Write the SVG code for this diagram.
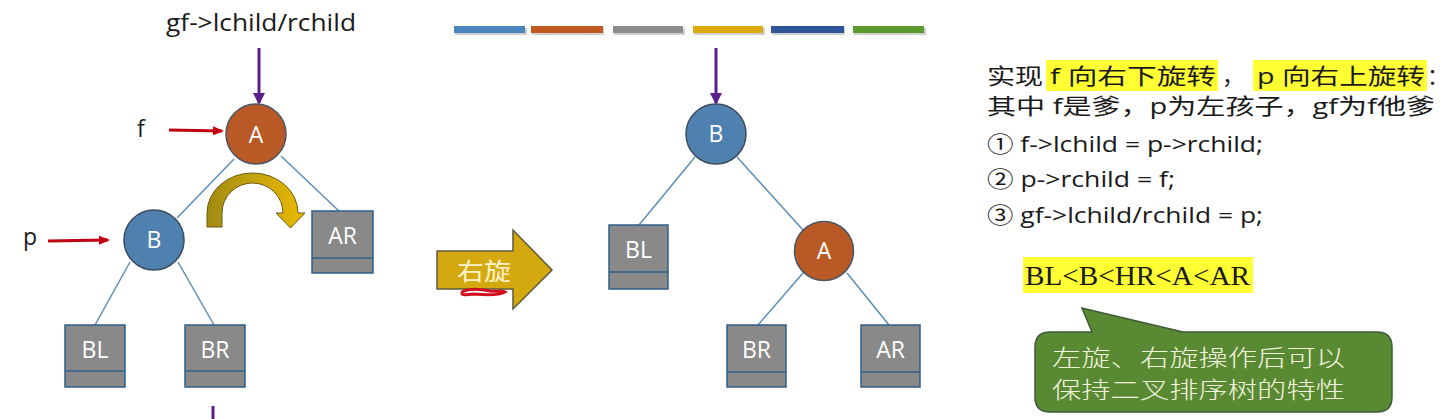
<svg xmlns="http://www.w3.org/2000/svg" width="1452" height="419" viewBox="0 0 1452 419">
<defs>
<style>
.lat{font-family:"Open Sans","Liberation Sans","Noto Sans CJK SC",sans-serif;}
.mix{font-family:"Open Sans","Noto Sans CJK SC",sans-serif;fill:#1a1a1a;font-size:22px;}
.edge{stroke:#5b8db8;stroke-width:1.5;fill:none;}
.box{fill:#898989;stroke:#2f5f8a;stroke-width:1.5;}
.div{stroke:#2f5f8a;stroke-width:1.5;}
.nlab{font-family:"Open Sans","Liberation Sans",sans-serif;fill:#ffffff;font-size:23px;text-anchor:middle;}
.cA{fill:#b95a26;stroke:#4a5563;stroke-width:1.5;}
.cB{fill:#4e80b0;stroke:#3c4a5c;stroke-width:1.5;}
.purple{stroke:#5a1f8a;stroke-width:3;fill:none;}
.red{stroke:#c00010;stroke-width:3;fill:none;}
.hl{fill:#ffff33;}
</style>
<marker id="mp" markerUnits="userSpaceOnUse" markerWidth="12" markerHeight="12" refX="10" refY="6" orient="auto">
<path d="M0,0 L12,6 L0,12 Z" fill="#5a1f8a"/>
</marker>
<marker id="mr" markerUnits="userSpaceOnUse" markerWidth="11" markerHeight="9" refX="9" refY="4.5" orient="auto">
<path d="M0,0 L11,4.5 L0,9 Z" fill="#c00010"/>
</marker>
<linearGradient id="gold" x1="0" y1="0" x2="1" y2="0">
<stop offset="0" stop-color="#a08a12"/>
<stop offset="0.5" stop-color="#c9a50e"/>
<stop offset="1" stop-color="#e8b900"/>
</linearGradient>
</defs>
<rect width="1452" height="419" fill="#ffffff"/>

<!-- colour bars -->
<g id="bars">
<rect x="455" y="28" width="72" height="7" fill="#cfcfcf"/>
<rect x="532" y="28" width="72" height="7" fill="#cfcfcf"/>
<rect x="614" y="28" width="71" height="7" fill="#cfcfcf"/>
<rect x="694" y="28" width="71" height="7" fill="#cfcfcf"/>
<rect x="772" y="28" width="73" height="7" fill="#cfcfcf"/>
<rect x="854" y="28" width="72" height="7" fill="#cfcfcf"/>
<rect x="454" y="26" width="71" height="7" fill="#4a86bd"/>
<rect x="531" y="26" width="72" height="7" fill="#c05a22"/>
<rect x="613" y="26" width="70" height="7" fill="#8c8c8c"/>
<rect x="693" y="26" width="70" height="7" fill="#d9a90f"/>
<rect x="771" y="26" width="73" height="7" fill="#2e5597"/>
<rect x="853" y="26" width="71" height="7" fill="#5a9a2f"/>
</g>

<!-- connectors -->
<g id="connectors">
<line class="edge" x1="234" y1="159" x2="177" y2="218"/>
<line class="edge" x1="281" y1="156" x2="340" y2="212"/>
<line class="edge" x1="130" y1="262" x2="95" y2="325"/>
<line class="edge" x1="178" y1="262" x2="214" y2="325"/>
<line class="edge" x1="695" y1="157" x2="639" y2="225"/>
<line class="edge" x1="737" y1="157" x2="803" y2="230"/>
<line class="edge" x1="803" y1="273" x2="758" y2="325"/>
<line class="edge" x1="847" y1="273" x2="889" y2="325"/>
<line class="purple" x1="259" y1="48" x2="259" y2="103" marker-end="url(#mp)"/>
<line class="purple" x1="716" y1="48" x2="716" y2="103" marker-end="url(#mp)"/>
<line class="purple" x1="213" y1="406" x2="213" y2="419"/>
<line class="red" x1="169" y1="130" x2="222" y2="131" marker-end="url(#mr)"/>
<line class="red" x1="48" y1="241" x2="108" y2="240" marker-end="url(#mr)"/>
</g>

<!-- left tree -->
<text class="lat" x="166" y="31" font-size="23" fill="#1a1a1a" textLength="190" lengthAdjust="spacingAndGlyphs">gf-&gt;lchild/rchild</text>
<text class="lat" x="137" y="137" font-size="23" fill="#1a1a1a">f</text>
<text class="lat" x="23" y="245" font-size="23" fill="#1a1a1a">p</text>

<g id="nodeA_left">
<circle class="cA" cx="256" cy="134" r="30"/>
<text class="nlab" x="256" y="143">A</text>
</g>
<g id="nodeB_left">
<circle class="cB" cx="154" cy="240" r="30"/>
<text class="nlab" x="154" y="248">B</text>
</g>
<g id="nodeAR_left">
<rect class="box" x="312" y="211" width="61" height="62"/>
<line class="div" x1="312" y1="258" x2="373" y2="258"/>
<text class="nlab" x="342.5" y="244">AR</text>
</g>
<g id="nodeBL_left">
<rect class="box" x="65" y="325" width="60" height="62"/>
<line class="div" x1="65" y1="371" x2="125" y2="371"/>
<text class="nlab" x="95" y="358">BL</text>
</g>
<g id="nodeBR_left">
<rect class="box" x="185" y="325" width="60" height="62"/>
<line class="div" x1="185" y1="371" x2="245" y2="371"/>
<text class="nlab" x="215" y="358">BR</text>
</g>

<g id="curved_arrow">
<path d="M207,227 L207,213 A45.5,40 0 0 1 298,213 L305,213 L290.5,228 L276,213 L283,213 A30.5,30 0 0 0 222,213 L222,227 Z" fill="url(#gold)" stroke="#6b5a10" stroke-width="1"/>
</g>

<!-- rotate arrow -->
<g id="rotate_arrow">
<path d="M437,251 L513,251 L513,230 L552,270 L513,309 L513,289 L437,289 Z" fill="#d4a90f" stroke="#5c5a3c" stroke-width="1.5"/>
<text x="484" y="280" font-family="'Noto Sans CJK SC',sans-serif" font-size="24" fill="#fdf3c8" text-anchor="middle" textLength="54" lengthAdjust="spacingAndGlyphs">右旋</text>
<path d="M462,292 C470,288 480,289 490,291 C496,292 502,290 505,292 C498,296 485,295 474,294 C468,294 464,296 462,294" fill="none" stroke="#d01020" stroke-width="3" stroke-linecap="round"/>
</g>

<!-- right tree -->
<g id="nodeB_right">
<circle class="cB" cx="716" cy="134" r="30"/>
<text class="nlab" x="716" y="142">B</text>
</g>
<g id="nodeBL_right">
<rect class="box" x="609" y="225" width="59" height="64"/>
<line class="div" x1="609" y1="272" x2="668" y2="272"/>
<text class="nlab" x="638.5" y="258">BL</text>
</g>
<g id="nodeA_right">
<circle class="cA" cx="824" cy="251" r="29.5"/>
<text class="nlab" x="824" y="259">A</text>
</g>
<g id="nodeBR_right">
<rect class="box" x="727" y="325" width="59" height="62"/>
<line class="div" x1="727" y1="372" x2="786" y2="372"/>
<text class="nlab" x="756.5" y="358">BR</text>
</g>
<g id="nodeAR_right">
<rect class="box" x="861" y="325" width="59" height="62"/>
<line class="div" x1="861" y1="372" x2="920" y2="372"/>
<text class="nlab" x="890.5" y="358">AR</text>
</g>

<!-- right text -->
<g id="notes">
<rect class="hl" x="1046" y="60" width="172" height="31"/>
<rect class="hl" x="1253" y="60" width="174" height="31"/>
<text class="mix" x="987" y="84" textLength="56" lengthAdjust="spacingAndGlyphs">实现</text>
<text class="mix" x="1050" y="84" textLength="166" lengthAdjust="spacingAndGlyphs">f 向右下旋转</text>
<text class="mix" x="1222" y="84">，</text>
<text class="mix" x="1257" y="84" textLength="168" lengthAdjust="spacingAndGlyphs">p 向右上旋转</text>
<text class="mix" x="1427" y="84">：</text>
<text class="mix" x="987" y="114" textLength="448" lengthAdjust="spacingAndGlyphs">其中 f是爹，p为左孩子，gf为f他爹</text>
<text class="mix" x="987" y="152" textLength="276" lengthAdjust="spacingAndGlyphs">① f-&gt;lchild = p-&gt;rchild;</text>
<text class="mix" x="987" y="187" textLength="188" lengthAdjust="spacingAndGlyphs">② p-&gt;rchild = f;</text>
<text class="mix" x="987" y="223" textLength="276" lengthAdjust="spacingAndGlyphs">③ gf-&gt;lchild/rchild = p;</text>
<rect class="hl" x="1023" y="257" width="230" height="36"/>
<text x="1025" y="285" font-family="'Liberation Serif',serif" font-size="27" fill="#1a1a1a" textLength="225" lengthAdjust="spacingAndGlyphs">BL&lt;B&lt;HR&lt;A&lt;AR</text>
</g>

<g id="callout">
<path d="M1050,332 L1092,332 L1082,308 L1183,332 L1377,332 Q1392,332 1392,347 L1392,397 Q1392,412 1377,412 L1050,412 Q1035,412 1035,397 L1035,347 Q1035,332 1050,332 Z" fill="#598a33" stroke="#3e5a36" stroke-width="1.5"/>
<text x="1052" y="366" font-family="'Noto Sans CJK SC',sans-serif" font-weight="300" font-size="23" fill="#f0f2dc" textLength="293" lengthAdjust="spacingAndGlyphs">左旋、右旋操作后可以</text>
<text x="1052" y="398" font-family="'Noto Sans CJK SC',sans-serif" font-weight="300" font-size="23" fill="#f0f2dc" textLength="293" lengthAdjust="spacingAndGlyphs">保持二叉排序树的特性</text>
</g>
</svg>
